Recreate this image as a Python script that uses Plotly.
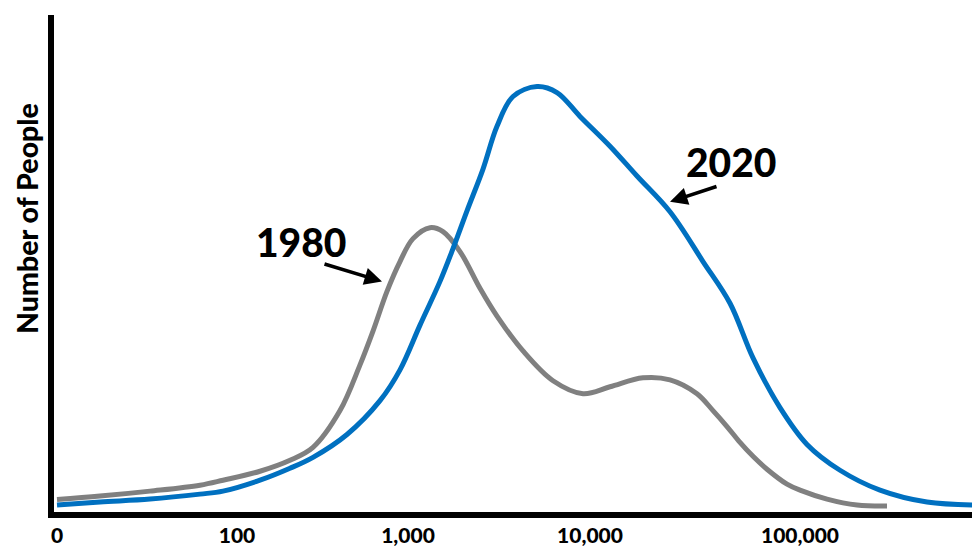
import plotly.graph_objects as go

# Horizontal position along the (log-like) income axis, vertical = number of people (arbitrary units)
x_1980 = [3, 46, 96, 146, 169, 206, 236, 259, 286, 306, 319, 333, 346, 359, 376, 389, 406,
          426, 443, 469, 499, 529, 556, 589, 616, 643, 659, 673, 686, 699, 713, 733, 746, 773, 803, 833]
y_1980 = [12.5, 16, 21, 27, 32, 41, 52, 65, 102, 148, 182, 222, 252, 275, 286, 282, 262,
          225, 197, 162, 132, 119, 126, 135, 133, 119, 102, 86, 70, 56, 43, 28, 22, 13, 7, 6]

x_2020 = [3, 46, 96, 146, 169, 206, 236, 259, 293, 326, 346, 366, 386, 399, 413, 429, 443, 459,
          483, 503, 526, 556, 583, 616, 649, 676, 699, 726, 753, 786, 826, 873, 923]
y_2020 = [7, 10, 13, 18, 21, 32, 44, 55, 78, 112, 143, 188, 232, 265, 303, 345, 388, 418,
          428, 422, 398, 368, 338, 302, 252, 210, 155, 105, 68, 42, 22, 10, 7]

tick_pos = [3, 183, 354, 536, 746]
tick_text = ["0", "100", "1,000", "10,000", "100,000"]

series_labels = ["1980", "2020"]
label_pos = [(247, 272), (677, 352)]
arrow_tail = [(269, 250), (664, 328)]
arrow_head = [(328, 232), (616, 312)]

y_title = "Number of People"

GRAY = "#808080"
BLUE = "#0070C0"
FONT = "Lato"

fig = go.Figure()
fig.add_trace(go.Scatter(x=x_1980, y=y_1980, mode="lines", name="1980",
                         line=dict(color=GRAY, width=5, shape="spline", smoothing=1.0)))
fig.add_trace(go.Scatter(x=x_2020, y=y_2020, mode="lines", name="2020",
                         line=dict(color=BLUE, width=5, shape="spline", smoothing=1.0)))

for lab, (lx, ly), (tx, ty), (hx, hy) in zip(series_labels, label_pos, arrow_tail, arrow_head):
    fig.add_annotation(x=lx, y=ly, xref="x", yref="y", text=lab, showarrow=False,
                       font=dict(family=FONT, size=39, color="black", weight=900))
    fig.add_annotation(x=hx, y=hy, ax=tx, ay=ty, xref="x", yref="y", axref="x", ayref="y",
                       text="", showarrow=True, arrowhead=2, arrowsize=1, arrowwidth=3.5,
                       arrowcolor="black", standoff=0, startstandoff=0)

# y-axis title placed like the reference (left of the axis, above centre)
fig.add_annotation(x=-0.029, y=0.59, xref="paper", yref="paper", text=y_title,
                   textangle=-90, showarrow=False, xanchor="center", yanchor="middle",
                   borderpad=0,
                   font=dict(family=FONT, size=28.5, color="black", weight=900))

# page body has an 8px margin: shrink figure so the plot lands where the reference has it
fig.update_layout(
    width=972, height=539,
    margin=dict(l=46, r=0, t=7, b=32),
    paper_bgcolor="white", plot_bgcolor="white",
    showlegend=False,
    font=dict(family=FONT, color="black"),
)
fig.update_xaxes(range=[0, 926], showgrid=False, zeroline=False,
                 showline=True, linecolor="black", linewidth=6,
                 tickmode="array", tickvals=tick_pos, ticktext=tick_text,
                 ticks="", tickfont=dict(family=FONT, size=21, color="black", weight=900),
                 fixedrange=True)
fig.update_yaxes(range=[0, 500], showgrid=False, zeroline=False,
                 showline=True, linecolor="black", linewidth=6,
                 showticklabels=False, ticks="",
                 fixedrange=True)

fig.write_html("out.html")
